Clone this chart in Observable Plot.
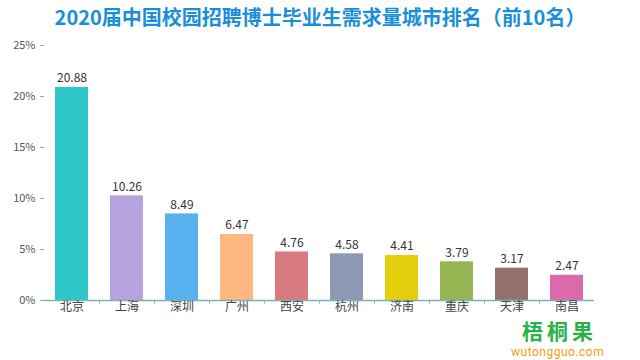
<!DOCTYPE html>
<html><head><meta charset="utf-8">
<script src="https://cdn.jsdelivr.net/npm/d3@7"></script>
<script src="https://cdn.jsdelivr.net/npm/@observablehq/plot@0.6"></script>
<style>
body{margin:0;background:#fff;font-family:"Noto Sans CJK SC","Noto Sans",sans-serif;}
#wrap{position:relative;width:640px;height:360px;overflow:hidden;}
#title{height:32px;line-height:34px;text-align:center;color:#1a8fd8;font-weight:bold;font-size:20px;}
#wm{position:absolute;left:511px;top:320px;text-align:center;}
#wm .cn{color:#2ab24a;font-weight:bold;font-size:21px;line-height:21px;height:21px;letter-spacing:4px;padding-left:4px;}
#wm .en{color:#f39c12;font-size:12px;line-height:13px;height:13px;margin-top:5px;font-family:Roboto,sans-serif;letter-spacing:0.5px;}
</style></head><body>
<div id="wrap">
<div id="title">2020届中国校园招聘博士毕业生需求量城市排名（前10名）</div>
<div id="chart"></div>
<div id="wm"><div class="cn">梧桐果</div><div class="en">wutongguo.com</div></div>
</div>
<script>
const cities = ["北京","上海","深圳","广州","西安","杭州","济南","重庆","天津","南昌"];
const values = [20.88,10.26,8.49,6.47,4.76,4.58,4.41,3.79,3.17,2.47];
const colors = ["#2ec7c9","#b6a2de","#5ab1ef","#ffb980","#d87a80","#8d98b3","#e5cf0d","#97b552","#95706d","#dc69aa"];
const yTicks = [0,5,10,15,20,25];

const data = cities.map((c,i)=>({city:c, value:values[i], color:colors[i]}));

const chart = Plot.plot({
  width:640, height:328,
  marginTop:13, marginBottom:60, marginLeft:44, marginRight:46,
  style:{fontFamily:'"Noto Sans CJK SC","Noto Sans",sans-serif', fontSize:"11px", color:"#555"},
  x:{domain:cities, paddingInner:0.4, paddingOuter:0.2, label:null},
  y:{domain:[0,25], label:null},
  marks:[
    Plot.barY(data,{x:"city", y:"value", fill:"color"}),
    Plot.text(data,{x:"city", y:"value", text:d=>d.value.toFixed(2), dy:-9, fontSize:12, fill:"#333"}),
    Plot.ruleY([0],{stroke:"#7fb3b3", strokeWidth:1.5}),
    Plot.ruleX([0],{frameAnchor:"left", stroke:"#7fb3b3", strokeWidth:1.5}),
    Plot.axisY({ticks:yTicks, tickFormat:d=>d+"%", tickSize:4, stroke:"#7fb3b3", fill:"#555", fontSize:11}),
    Plot.axisX({tickSize:0, fontSize:12, fill:"#444", tickPadding:2}),
    Plot.ruleX(cities.slice(1),{x:d=>d, dx:-27.5, y1:0, y2:-0.35, stroke:"#7fb3b3"})
  ]
});
document.getElementById("chart").appendChild(chart);
</script>
</body></html>
